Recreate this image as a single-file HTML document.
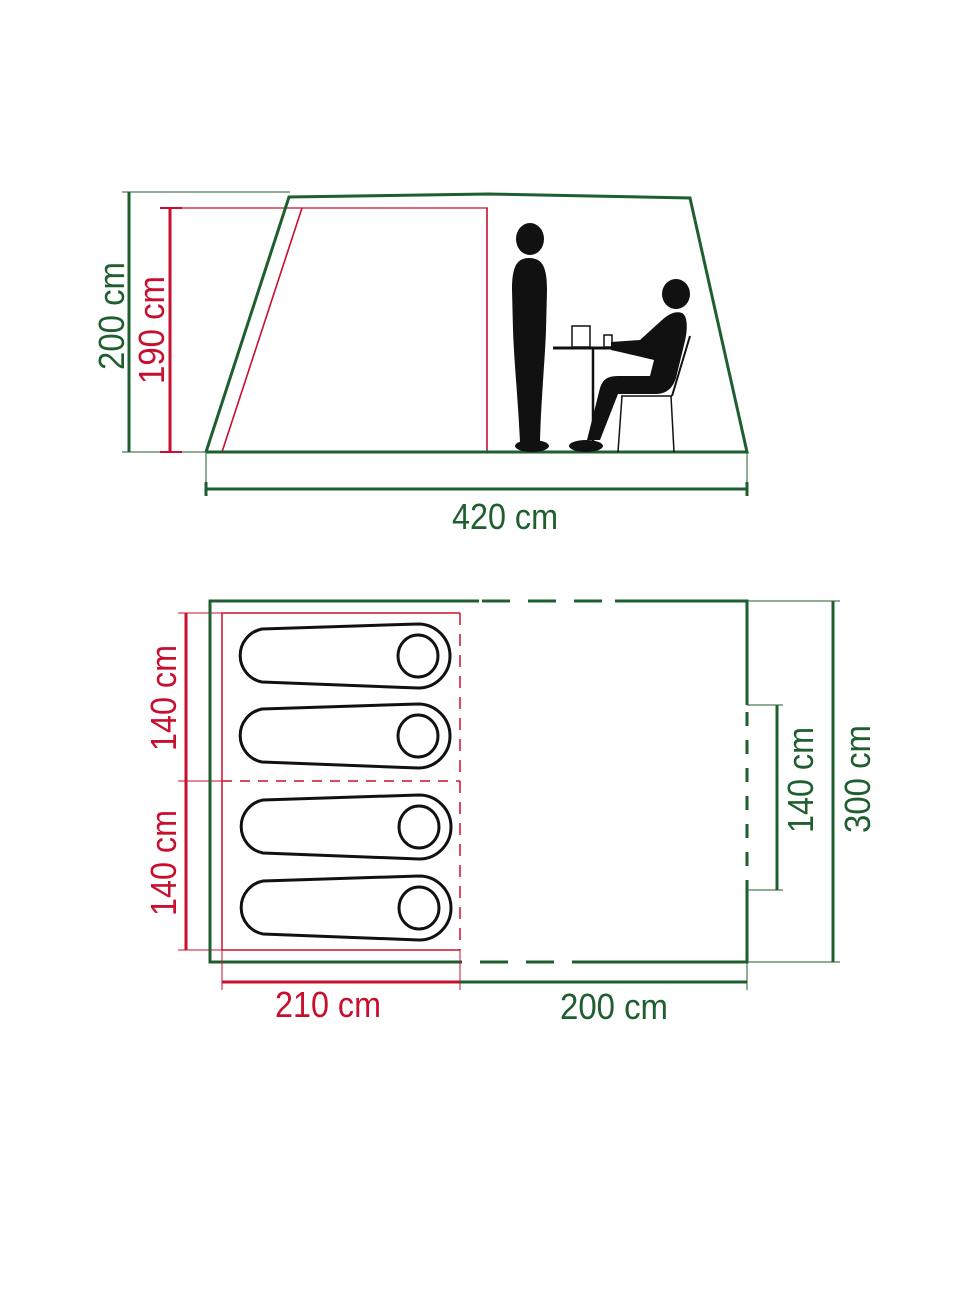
<!DOCTYPE html>
<html><head><meta charset="utf-8"><style>
html,body{margin:0;padding:0;background:#fff}
svg{display:block}
text{font-family:"Liberation Sans Narrow","Liberation Sans",sans-serif;font-size:36px}
</style></head><body>
<svg width="979" height="1306" viewBox="0 0 979 1306" xmlns="http://www.w3.org/2000/svg">
<g fill="none" stroke-linecap="butt">
<line x1="122" y1="192" x2="290" y2="192" stroke="#1f5e2e" stroke-width="1"/>
<line x1="122" y1="452" x2="206" y2="452" stroke="#1f5e2e" stroke-width="1"/>
<line x1="129" y1="192" x2="129" y2="452" stroke="#1f5e2e" stroke-width="3"/>
<line x1="160" y1="208" x2="488" y2="208" stroke="#c8102e" stroke-width="1.2"/>
<line x1="170" y1="208" x2="170" y2="452" stroke="#c8102e" stroke-width="3"/>
<line x1="160" y1="208" x2="182" y2="208" stroke="#c8102e" stroke-width="2"/>
<line x1="160" y1="452" x2="182" y2="452" stroke="#c8102e" stroke-width="2"/>
<polyline points="222,452 302,208" stroke="#c8102e" stroke-width="1.6"/>
<line x1="487" y1="208" x2="487" y2="452" stroke="#c8102e" stroke-width="1.6"/>
<polyline points="206,452 289,197 488,194 690,198 747,452 206,452" stroke="#1f5e2e" stroke-width="3" stroke-linejoin="miter"/>
<line x1="206" y1="452" x2="206" y2="496" stroke="#1f5e2e" stroke-width="1"/>
<line x1="747" y1="452" x2="747" y2="496" stroke="#1f5e2e" stroke-width="1"/>
<line x1="206" y1="489" x2="747" y2="489" stroke="#1f5e2e" stroke-width="3"/>
<line x1="206" y1="482" x2="206" y2="496" stroke="#1f5e2e" stroke-width="3"/>
<line x1="747" y1="482" x2="747" y2="496" stroke="#1f5e2e" stroke-width="3"/>
</g>
<g fill="#111">
<ellipse cx="530" cy="239" rx="14" ry="16"/>
<path d="M529 258 C543 258 547 268 547 290 L546 330 C545 360 541 400 540 442 L520 442 C518 400 514 360 513 330 L512 290 C512 268 516 258 529 258Z"/>
<ellipse cx="532" cy="446" rx="17" ry="6"/>
<ellipse cx="676" cy="294" rx="14" ry="15"/>
<path d="M682 313 C688 316 688 330 684 345 L676 378 C672 390 665 394 655 394 L618 394 L600 440 L587 440 L600 388 C603 379 608 376 618 376 L650 376 L654 360 L620 352 L611 350 L611 342 L640 340 L662 320 C670 313 676 311 682 313Z"/>
<ellipse cx="586" cy="446" rx="17" ry="6"/>
</g>
<g stroke="#111" fill="none">
<line x1="553" y1="348" x2="640" y2="348" stroke-width="3"/>
<line x1="593" y1="348" x2="593" y2="450" stroke-width="2.5"/>
<rect x="572" y="326" width="18" height="21" stroke-width="1.5"/>
<rect x="604" y="335" width="8" height="12" stroke-width="1.5"/>
<line x1="621" y1="396" x2="672" y2="396" stroke-width="1.5"/>
<line x1="622" y1="396" x2="618" y2="452" stroke-width="1.5"/>
<line x1="671" y1="396" x2="674" y2="452" stroke-width="1.5"/>
<line x1="672" y1="396" x2="690" y2="336" stroke-width="2"/>
</g>
<text transform="translate(124,316) rotate(-90)" text-anchor="middle" fill="#1f5e2e" textLength="108" lengthAdjust="spacingAndGlyphs">200 cm</text>
<text transform="translate(164,330) rotate(-90)" text-anchor="middle" fill="#c8102e" textLength="108" lengthAdjust="spacingAndGlyphs">190 cm</text>
<text x="505" y="529" text-anchor="middle" fill="#1f5e2e" textLength="106" lengthAdjust="spacingAndGlyphs">420 cm</text>

<g fill="none">
<line x1="178" y1="613" x2="222" y2="613" stroke="#c8102e" stroke-width="1"/>
<line x1="178" y1="950" x2="222" y2="950" stroke="#c8102e" stroke-width="1"/>
<line x1="178" y1="781" x2="222" y2="781" stroke="#c8102e" stroke-width="1"/>
<line x1="186" y1="613" x2="186" y2="950" stroke="#c8102e" stroke-width="3"/>
<line x1="222" y1="781" x2="460" y2="781" stroke="#c8102e" stroke-width="1.5" stroke-dasharray="10,8"/>
<polyline points="460,613 222,613 222,950 460,950" stroke="#c8102e" stroke-width="1.5"/>
<line x1="460" y1="613" x2="460" y2="950" stroke="#c8102e" stroke-width="1.5" stroke-dasharray="12,9"/>
<polyline points="479,601 210,601 210,962 462,962" stroke="#1f5e2e" stroke-width="3"/>
<line x1="482" y1="601" x2="615" y2="601" stroke="#1f5e2e" stroke-width="3" stroke-dasharray="28,18"/>
<line x1="480" y1="962" x2="600" y2="962" stroke="#1f5e2e" stroke-width="3" stroke-dasharray="28,18"/>
<polyline points="615,601 747,601 747,705" stroke="#1f5e2e" stroke-width="3"/>
<polyline points="600,962 747,962 747,890" stroke="#1f5e2e" stroke-width="3"/>
<line x1="747" y1="712" x2="747" y2="890" stroke="#1f5e2e" stroke-width="3" stroke-dasharray="14,14"/>
<line x1="747" y1="705" x2="783" y2="705" stroke="#1f5e2e" stroke-width="1"/>
<line x1="747" y1="890" x2="783" y2="890" stroke="#1f5e2e" stroke-width="1"/>
<line x1="777" y1="705" x2="777" y2="890" stroke="#1f5e2e" stroke-width="3"/>
<line x1="747" y1="601" x2="840" y2="601" stroke="#1f5e2e" stroke-width="1"/>
<line x1="747" y1="962" x2="840" y2="962" stroke="#1f5e2e" stroke-width="1"/>
<line x1="833" y1="601" x2="833" y2="962" stroke="#1f5e2e" stroke-width="3"/>
<line x1="222" y1="950" x2="222" y2="990" stroke="#c8102e" stroke-width="1"/>
<line x1="460" y1="950" x2="460" y2="990" stroke="#c8102e" stroke-width="1"/>
<line x1="747" y1="962" x2="747" y2="990" stroke="#1f5e2e" stroke-width="1"/>
<line x1="222" y1="982" x2="460" y2="982" stroke="#c8102e" stroke-width="3"/>
<line x1="460" y1="982" x2="747" y2="982" stroke="#1f5e2e" stroke-width="3"/>
</g>
<g fill="none" stroke="#111" stroke-width="3">
<g><path d="M262 629 L418 624 A32 32 0 0 1 418 688 L262 682 A27 27 0 0 1 262 629Z"/><ellipse cx="418" cy="656" rx="20" ry="21"/></g>
<g transform="translate(0,80)"><path d="M262 629 L418 624 A32 32 0 0 1 418 688 L262 682 A27 27 0 0 1 262 629Z"/><ellipse cx="418" cy="656" rx="20" ry="21"/></g>
<g transform="translate(1,171)"><path d="M262 629 L418 624 A32 32 0 0 1 418 688 L262 682 A27 27 0 0 1 262 629Z"/><ellipse cx="418" cy="656" rx="20" ry="21"/></g>
<g transform="translate(1,252)"><path d="M262 629 L418 624 A32 32 0 0 1 418 688 L262 682 A27 27 0 0 1 262 629Z"/><ellipse cx="418" cy="656" rx="20" ry="21"/></g>
</g>
<text transform="translate(176,698) rotate(-90)" text-anchor="middle" fill="#c8102e" textLength="106" lengthAdjust="spacingAndGlyphs">140 cm</text>
<text transform="translate(176,863) rotate(-90)" text-anchor="middle" fill="#c8102e" textLength="106" lengthAdjust="spacingAndGlyphs">140 cm</text>
<text transform="translate(813,780) rotate(-90)" text-anchor="middle" fill="#1f5e2e" textLength="106" lengthAdjust="spacingAndGlyphs">140 cm</text>
<text transform="translate(870,779) rotate(-90)" text-anchor="middle" fill="#1f5e2e" textLength="108" lengthAdjust="spacingAndGlyphs">300 cm</text>
<text x="328" y="1017" text-anchor="middle" fill="#c8102e" textLength="106" lengthAdjust="spacingAndGlyphs">210 cm</text>
<text x="614" y="1019" text-anchor="middle" fill="#1f5e2e" textLength="108" lengthAdjust="spacingAndGlyphs">200 cm</text>
</svg>
</body></html>
